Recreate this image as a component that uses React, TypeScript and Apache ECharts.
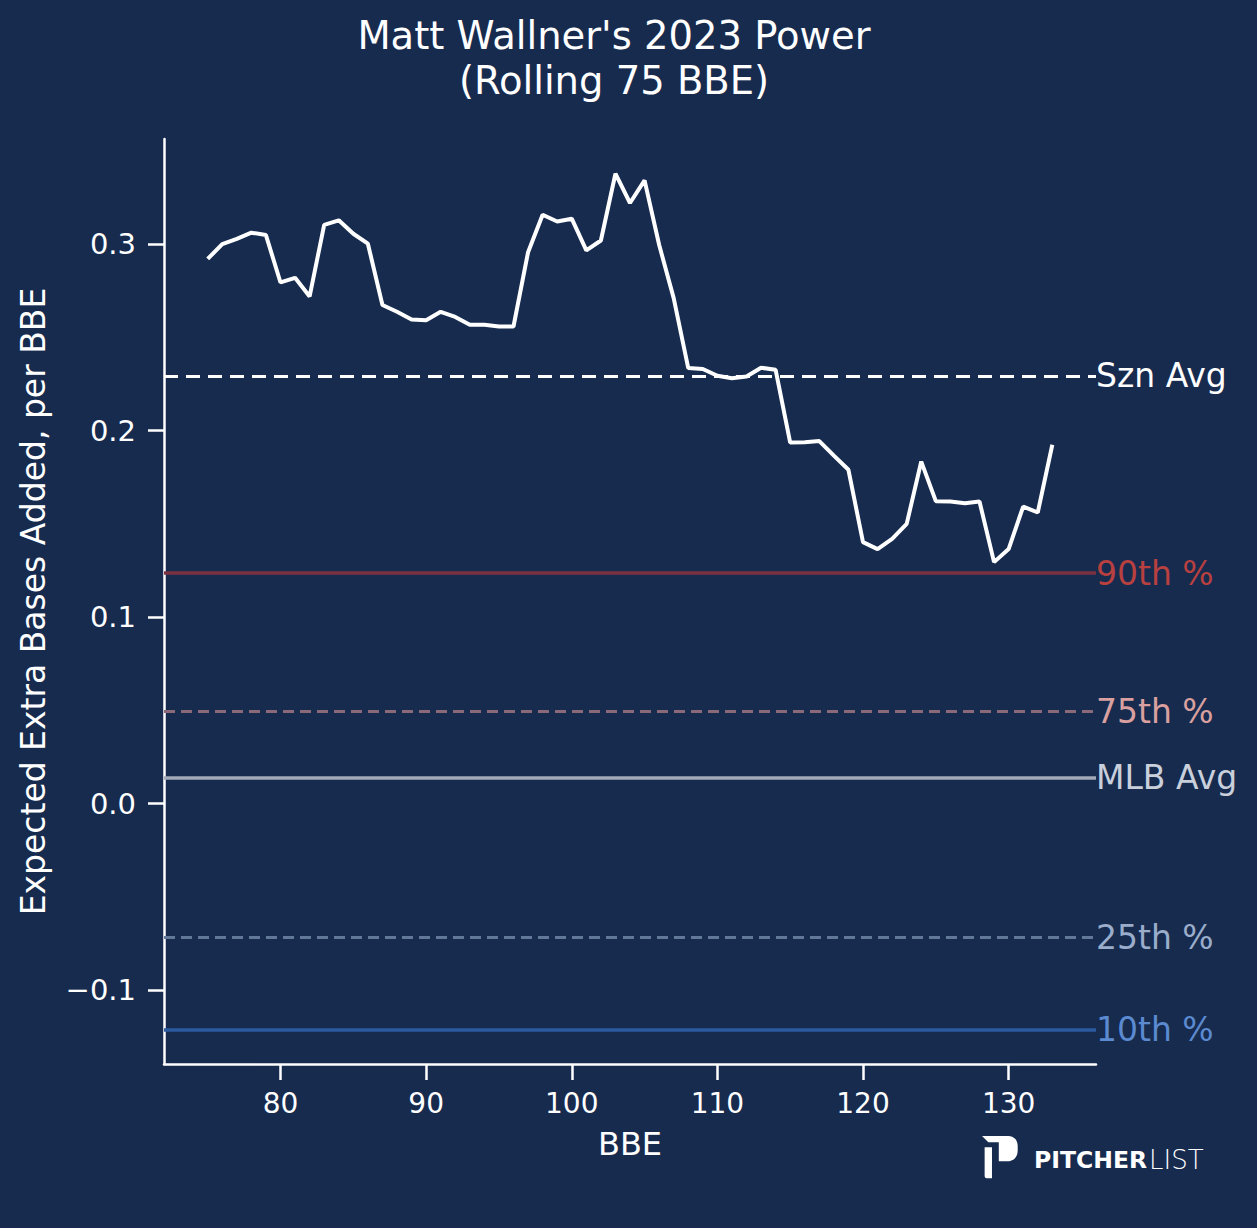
import { useEffect, useRef } from "react";
import * as echarts from "echarts";

// rolling 75 BBE window, one point per BBE
const bbe = [
  75, 76, 77, 78, 79, 80, 81, 82, 83, 84, 85, 86, 87, 88, 89, 90, 91, 92, 93, 94,
  95, 96, 97, 98, 99, 100, 101, 102, 103, 104, 105, 106, 107, 108, 109, 110, 111,
  112, 113, 114, 115, 116, 117, 118, 119, 120, 121, 122, 123, 124, 125, 126, 127,
  128, 129, 130, 131, 132, 133,
];
const xeba = [
  0.292, 0.3, 0.3028, 0.3061, 0.3048, 0.2794, 0.2819, 0.2719, 0.3103, 0.3127,
  0.3055, 0.3002, 0.2673, 0.2637, 0.2596, 0.2592, 0.2637, 0.2609, 0.2567, 0.2567,
  0.2558, 0.2558, 0.2956, 0.3157, 0.3121, 0.3136, 0.2966, 0.3019, 0.3377, 0.322,
  0.3341, 0.2996, 0.271, 0.2335, 0.233, 0.2294, 0.2281, 0.229, 0.2337, 0.2326,
  0.1936, 0.1938, 0.1944, 0.1866, 0.179, 0.1402, 0.1365, 0.142, 0.15, 0.1834,
  0.1622, 0.162, 0.1611, 0.162, 0.1295, 0.1365, 0.1593, 0.1561, 0.1924,
];

const refNames = ["Szn Avg", "90th %", "75th %", "MLB Avg", "25th %", "10th %"];
const refValues = [0.2294, 0.1236, 0.0494, 0.014, -0.0718, -0.1209];

const xTicks = [80, 90, 100, 110, 120, 130];
const yTicks = [-0.1, 0, 0.1, 0.2, 0.3];

const refStyles = [
  { line: "#ffffff", text: "#ffffff", width: 3, dash: [14, 8] },
  { line: "#7a3242", text: "#b8403f", width: 3.5, dash: "solid" },
  { line: "#8a6a78", text: "#d9a09f", width: 3, dash: [11, 6] },
  { line: "#a3aab8", text: "#c9d0db", width: 3.5, dash: "solid" },
  { line: "#627898", text: "#9aadcb", width: 3, dash: [11, 6] },
  { line: "#2b5a9f", text: "#5b8ad0", width: 3.5, dash: "solid" },
];

const BG = "#172b4f";
const FONT = "DejaVu Sans";

const logoPath =
  "M0 0 L25 0 C30.5 0 34 4 34 10 L34 14 C34 20.5 30 24.5 24 24.5 L16 24.5 L16 6 L6 6 Z " +
  "M2.5 11 L9.5 11 L9.5 41 L4.5 41 Q2.5 41 2.5 39 Z";
echarts.graphic.registerShape("plogo", echarts.graphic.extendPath(logoPath, {}) as any);

const fmtY = (v: number) => {
  const r = Math.round(v * 10) / 10;
  return r < 0 ? "\u2212" + Math.abs(r).toFixed(1) : r.toFixed(1);
};

const App = () => {
  const ref = useRef<HTMLDivElement | null>(null);

  useEffect(() => {
    document.body.style.margin = "0";
    document.body.style.background = BG;
    if (!ref.current) return;
    const chart = echarts.init(ref.current, null, { renderer: "svg" });

    const markData = refNames.map((name, i) => ({
      name,
      yAxis: refValues[i],
      lineStyle: { color: refStyles[i].line, width: refStyles[i].width, type: refStyles[i].dash },
      label: {
        show: true,
        position: "end",
        distance: 0,
        formatter: name,
        color: refStyles[i].text,
        fontSize: 33,
        fontFamily: FONT,
      },
    }));

    chart.setOption({
      animation: false,
      backgroundColor: BG,
      textStyle: { fontFamily: FONT },
      grid: { left: 164, right: 161, top: 139, bottom: 164, containLabel: false },
      xAxis: {
        type: "value",
        min: 72,
        max: 136,
        name: "BBE",
        nameLocation: "middle",
        nameGap: 64,
        nameTextStyle: { color: "#ffffff", fontSize: 32, fontFamily: FONT },
        axisLine: { onZero: false, lineStyle: { color: "#ffffff", width: 2.5 } },
        axisTick: { length: 16, customValues: xTicks, lineStyle: { color: "#ffffff", width: 2.5 } },
        axisLabel: { customValues: xTicks, margin: 25, color: "#ffffff", fontSize: 28, fontFamily: FONT },
        splitLine: { show: false },
      },
      yAxis: {
        type: "value",
        min: -0.1395,
        max: 0.3563,
        name: "Expected Extra Bases Added, per BBE",
        nameLocation: "middle",
        nameGap: 114,
        nameTextStyle: { color: "#ffffff", fontSize: 33, fontFamily: FONT },
        axisLine: { onZero: false, lineStyle: { color: "#ffffff", width: 2.5 } },
        axisTick: { length: 16, customValues: yTicks, lineStyle: { color: "#ffffff", width: 2.5 } },
        axisLabel: {
          customValues: yTicks,
          margin: 28,
          color: "#ffffff",
          fontSize: 29,
          fontFamily: FONT,
          formatter: (v: number) => fmtY(v),
        },
        splitLine: { show: false },
      },
      series: [
        {
          type: "line",
          data: bbe.map((b, i) => [b, xeba[i]]),
          symbol: "none",
          lineStyle: { color: "#ffffff", width: 4 },
          z: 5,
          markLine: {
            silent: true,
            precision: 4,
            symbol: ["none", "none"],
            data: markData,
          },
        },
      ],
      graphic: [
        {
          type: "text",
          x: 614,
          y: 13,
          style: {
            text: "Matt Wallner's 2023 Power\n(Rolling 75 BBE)",
            fill: "#ffffff",
            font: `38.5px "${FONT}"`,
            align: "center",
            lineHeight: 45,
          },
        },
        {
          type: "plogo",
          x: 982,
          y: 1136,
          scaleX: 1.05,
          scaleY: 1.03,
          style: { fill: "#ffffff" },
        },
        {
          type: "text",
          x: 1034,
          y: 1160,
          style: {
            text: "PITCHER",
            fill: "#ffffff",
            font: `bold 23.5px "${FONT}"`,
            verticalAlign: "middle",
          },
        },
        {
          type: "text",
          x: 1149,
          y: 1160,
          style: {
            text: "LIST",
            fill: "#ffffff",
            font: `200 26px "${FONT}"`,
            verticalAlign: "middle",
          },
        },
      ],
    });

    return () => chart.dispose();
  }, []);

  return <div ref={ref} style={{ width: 1257, height: 1228 }} />;
};

export default App;
